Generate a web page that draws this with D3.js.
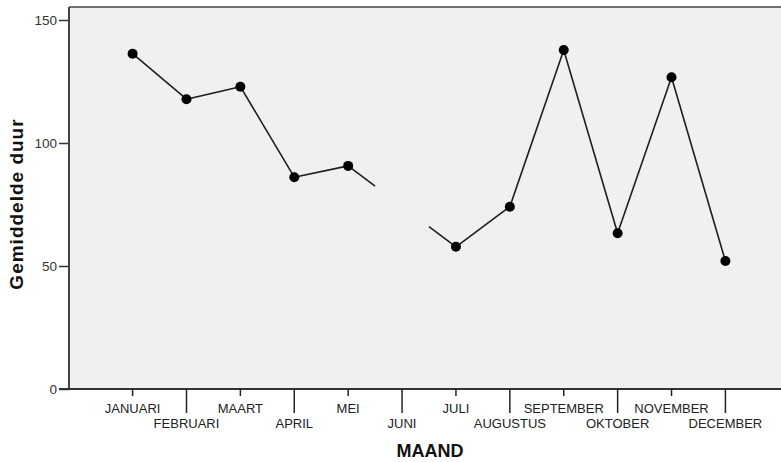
<!DOCTYPE html>
<html>
<head>
<meta charset="utf-8">
<script src="https://cdn.jsdelivr.net/npm/d3@7"></script>
<style>
  body { margin: 0; background: #fff; }
  svg { display: block; font-family: "Liberation Sans", Arial, sans-serif; }
</style>
</head>
<body>
<script>
// maanden en gemiddelde duur (JUNI ontbreekt)
let months = ["JANUARI","FEBRUARI","MAART","APRIL","MEI","JUNI","JULI","AUGUSTUS","SEPTEMBER","OKTOBER","NOVEMBER","DECEMBER"];
let duur = [136.3, 117.8, 122.9, 86.1, 90.7, null, 57.8, 74.1, 137.8, 63.3, 126.7, 52.0];
let yTicks = [0, 50, 100, 150];

let width = 781,
    height = 462,
    plotLeft = 69,
    plotTop = 7,
    plotBottom = 389;

let svg = d3.select('body')
    .append('svg')
    .attr('width', width)
    .attr('height', height);

let x = d3.scalePoint().domain(months).range([plotLeft, 789]).padding(1.18);
let y = d3.scaleLinear().domain([0, 150]).range([plotBottom, 20]);

// plot achtergrond
svg.append('rect')
    .attr('x', plotLeft)
    .attr('y', plotTop)
    .attr('width', 800 - plotLeft)
    .attr('height', plotBottom - plotTop)
    .attr('fill', '#f0f0f0');
svg.append('line')
    .attr('x1', plotLeft).attr('x2', 800)
    .attr('y1', plotTop).attr('y2', plotTop)
    .attr('stroke', '#707070').attr('stroke-width', 2);

// lijnstukken, ontbrekende waarden: halve stap naar de ontbrekende maand
let segs = [];
for (let i = 0; i < months.length - 1; i++) {
    if (duur[i] == null) continue;
    let j = i + 1;
    while (j < months.length && duur[j] == null) j++;
    if (j >= months.length) break;
    let p0 = [x(months[i]), y(duur[i])], p1 = [x(months[j]), y(duur[j])];
    if (j == i + 1) {
        segs.push([p0, p1]);
    } else {
        let t = 0.5 / (j - i);
        let lerp = function(t) { return [p0[0] + (p1[0] - p0[0]) * t, p0[1] + (p1[1] - p0[1]) * t]; };
        segs.push([p0, lerp(t)]);
        segs.push([lerp(1 - t), p1]);
    }
}
svg.selectAll('line.seg')
    .data(segs)
    .enter()
    .append('line')
    .attr('class', 'seg')
    .attr('x1', d => d[0][0]).attr('y1', d => d[0][1])
    .attr('x2', d => d[1][0]).attr('y2', d => d[1][1])
    .attr('stroke', '#1e1e1e')
    .attr('stroke-width', 1.6);

svg.selectAll('circle')
    .data(months.filter((m, i) => duur[i] != null))
    .enter()
    .append('circle')
    .attr('cx', d => x(d))
    .attr('cy', d => y(duur[months.indexOf(d)]))
    .attr('r', 5)
    .attr('fill', '#000');

// y-as
let axisY = d3.axisLeft(y).tickValues(yTicks).tickSize(10).tickSizeOuter(0).tickPadding(2);
let gy = svg.append('g').attr('transform', `translate(${plotLeft},0)`).call(axisY);
gy.select('.domain').remove();
gy.selectAll('line').attr('stroke', '#333').attr('stroke-width', 1.5);
gy.selectAll('text').attr('font-size', '13.5px').attr('fill', '#333').attr('font-family', '"Liberation Sans", Arial, sans-serif');
svg.append('line')
    .attr('x1', plotLeft).attr('x2', plotLeft)
    .attr('y1', plotTop).attr('y2', plotBottom)
    .attr('stroke', '#444').attr('stroke-width', 2);

// x-as met verspringende labels
svg.append('line')
    .attr('x1', plotLeft - 10).attr('x2', 800)
    .attr('y1', plotBottom).attr('y2', plotBottom)
    .attr('stroke', '#333').attr('stroke-width', 2);
svg.selectAll('line.xtick')
    .data(months)
    .enter()
    .append('line')
    .attr('class', 'xtick')
    .attr('x1', d => x(d)).attr('x2', d => x(d))
    .attr('y1', plotBottom)
    .attr('y2', (d, i) => i % 2 == 0 ? plotBottom + 7 : plotBottom + 24)
    .attr('stroke', '#222').attr('stroke-width', 1.5);
svg.selectAll('text.xlab')
    .data(months)
    .enter()
    .append('text')
    .attr('class', 'xlab')
    .attr('x', d => x(d))
    .attr('y', (d, i) => i % 2 == 0 ? 412.5 : 427.5)
    .attr('text-anchor', 'middle')
    .attr('font-size', '13px')
    .attr('fill', '#222')
    .text(d => d);

// astitels
svg.append('text')
    .attr('x', 430).attr('y', 457)
    .attr('text-anchor', 'middle')
    .attr('font-size', '18px')
    .attr('font-weight', 'bold')
    .attr('fill', '#111')
    .text('MAAND');
svg.append('text')
    .attr('transform', 'translate(23,204) rotate(-90)')
    .attr('text-anchor', 'middle')
    .attr('font-size', '19px')
    .attr('letter-spacing', '1px')
    .attr('font-weight', 'bold')
    .attr('fill', '#111')
    .text('Gemiddelde duur');
</script>
</body>
</html>
